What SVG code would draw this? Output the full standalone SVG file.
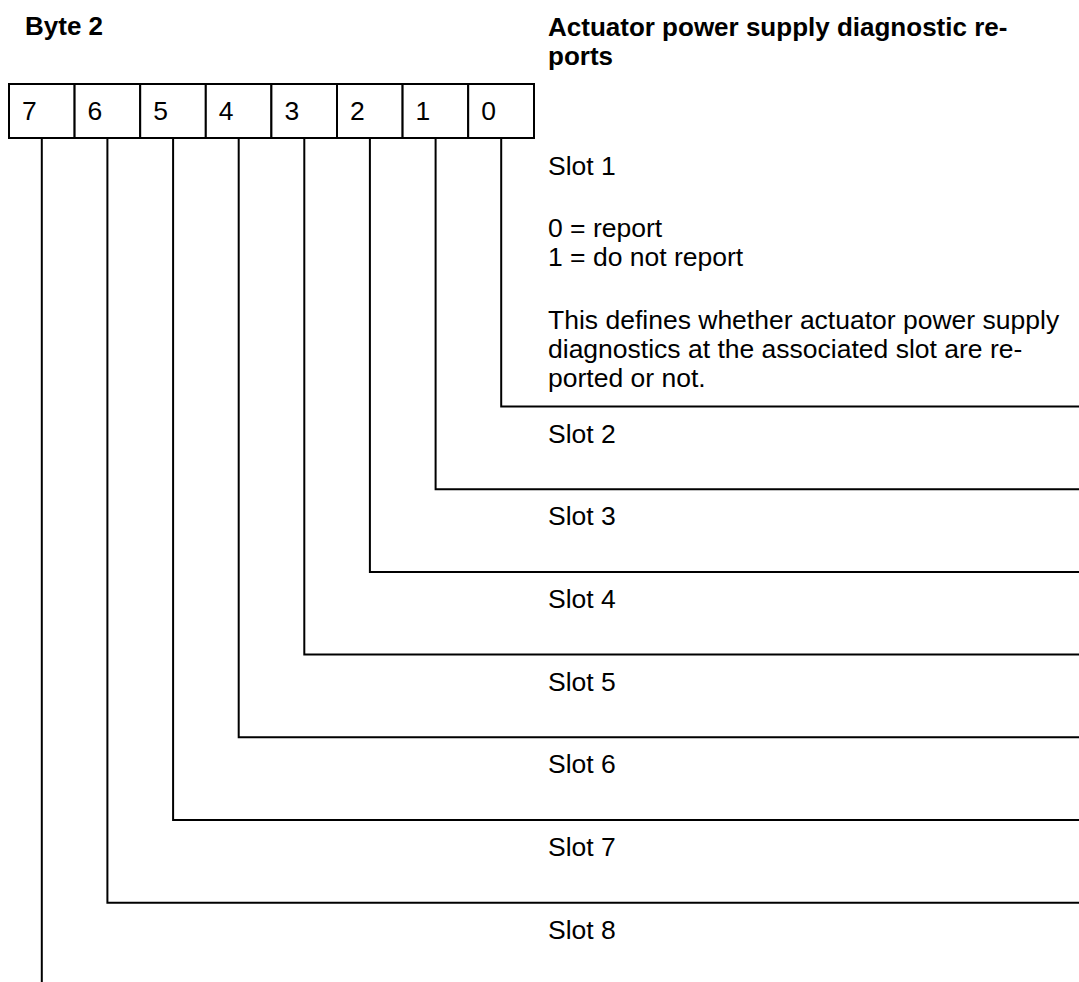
<svg xmlns="http://www.w3.org/2000/svg" width="1079" height="982" viewBox="0 0 1079 982">
<style>
.t{font-family:"Liberation Sans",Arial,sans-serif;font-size:26.5px;fill:#000}
.b{font-weight:bold;font-size:26px}
.ln{fill:none;stroke:#000;stroke-width:2}
.cell{fill:#fff;stroke:#000;stroke-width:2}
</style>
<rect width="1079" height="982" fill="#fff"/>
<g id="header">
<text class="t b" x="25" y="35">Byte 2</text>
<text class="t b" x="548" y="36">Actuator power supply diagnostic re-</text>
<text class="t b" x="548" y="65">ports</text>
</g>
<g id="byte">
<g id="bit7"><rect class="cell" x="9" y="84" width="65.6" height="54"/><text class="t" x="22" y="120">7</text></g>
<g id="bit6"><rect class="cell" x="74.6" y="84" width="65.6" height="54"/><text class="t" x="87.6" y="120">6</text></g>
<g id="bit5"><rect class="cell" x="140.2" y="84" width="65.6" height="54"/><text class="t" x="153.2" y="120">5</text></g>
<g id="bit4"><rect class="cell" x="205.8" y="84" width="65.6" height="54"/><text class="t" x="218.8" y="120">4</text></g>
<g id="bit3"><rect class="cell" x="271.4" y="84" width="65.6" height="54"/><text class="t" x="284.4" y="120">3</text></g>
<g id="bit2"><rect class="cell" x="337" y="84" width="65.6" height="54"/><text class="t" x="350" y="120">2</text></g>
<g id="bit1"><rect class="cell" x="402.6" y="84" width="65.6" height="54"/><text class="t" x="415.6" y="120">1</text></g>
<g id="bit0"><rect class="cell" x="468.2" y="84" width="65.8" height="54"/><text class="t" x="481.2" y="120">0</text></g>
</g>
<g id="connectors">
<path class="ln" d="M501.2 139V406.5H1079"/>
<path class="ln" d="M435.6 139V489.2H1079"/>
<path class="ln" d="M369.9 139V571.9H1079"/>
<path class="ln" d="M304.3 139V654.6H1079"/>
<path class="ln" d="M238.7 139V737.3H1079"/>
<path class="ln" d="M173.1 139V820H1079"/>
<path class="ln" d="M107.4 139V902.7H1079"/>
<path class="ln" d="M41.8 139V982"/>
</g>
<g id="slot1">
<text class="t" x="548" y="175">Slot 1</text>
<text class="t" x="548" y="237">0 = report</text>
<text class="t" x="548" y="266">1 = do not report</text>
<text class="t" x="548" y="329.3">This defines whether actuator power supply</text>
<text class="t" x="548" y="358.3">diagnostics at the associated slot are re-</text>
<text class="t" x="548" y="387">ported or not.</text>
</g>
<g id="slot2"><text class="t" x="548" y="442.5">Slot 2</text></g>
<g id="slot3"><text class="t" x="548" y="525.2">Slot 3</text></g>
<g id="slot4"><text class="t" x="548" y="607.9">Slot 4</text></g>
<g id="slot5"><text class="t" x="548" y="690.6">Slot 5</text></g>
<g id="slot6"><text class="t" x="548" y="773.3">Slot 6</text></g>
<g id="slot7"><text class="t" x="548" y="856">Slot 7</text></g>
<g id="slot8"><text class="t" x="548" y="938.7">Slot 8</text></g>
</svg>
